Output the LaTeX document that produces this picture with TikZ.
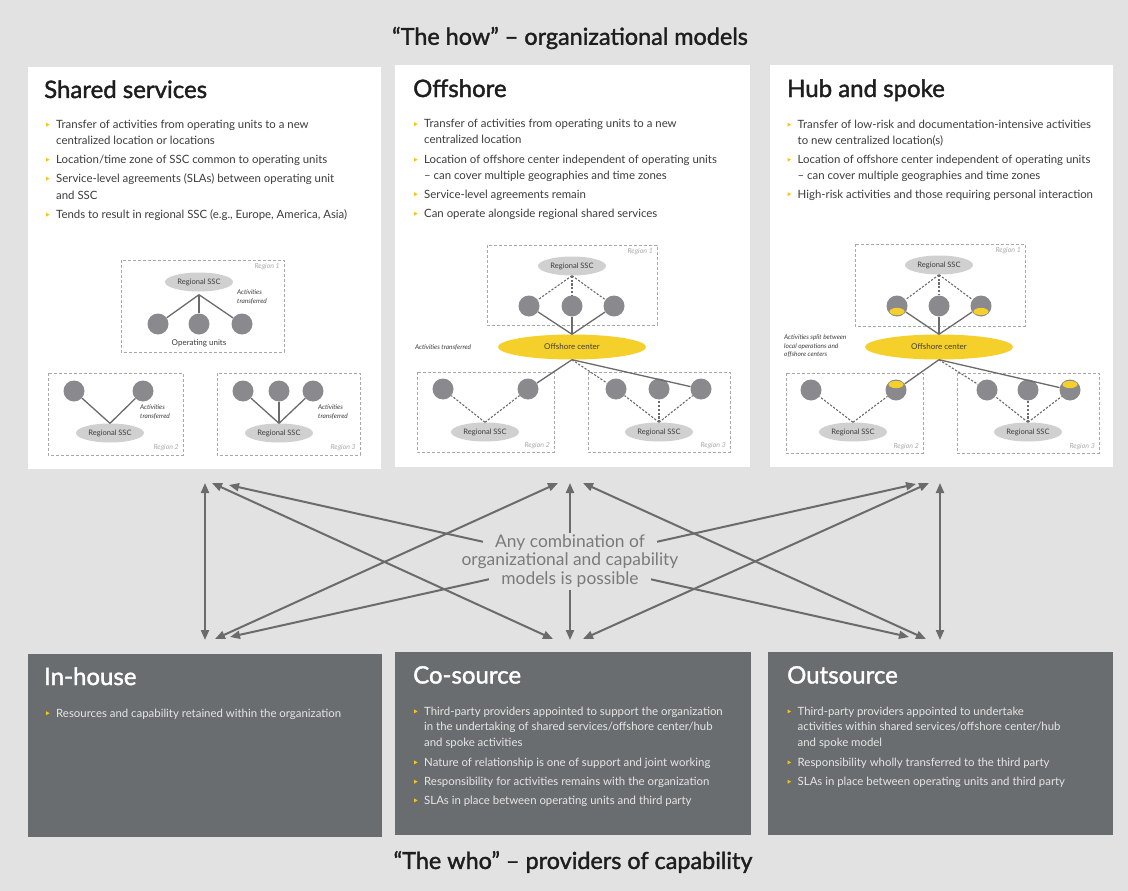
\documentclass[tikz,border=0pt]{standalone}
\usepackage{fontspec}
\setmainfont{Lato}
\newfontfamily\headfont[FakeBold=1.6]{Lato}
\usetikzlibrary{arrows.meta,shapes.geometric,calc}

\definecolor{bg}{HTML}{E2E2E2}
\definecolor{darkpanel}{HTML}{6A6D6F}
\definecolor{unitgray}{HTML}{8A898E}
\definecolor{sscgray}{HTML}{D0D0D0}
\definecolor{offyellow}{HTML}{F6D02A}
\definecolor{bulletyellow}{HTML}{F5C518}
\definecolor{arrowgray}{HTML}{6B6B6B}
\definecolor{bodytext}{HTML}{3C3C3C}
\definecolor{lighttext}{HTML}{E6E6E6}
\definecolor{titletext}{HTML}{1E1E1E}
\definecolor{boxgray}{HTML}{A8A8A8}
\definecolor{labelgray}{HTML}{ABABAB}
\definecolor{midtext}{HTML}{7A7A7A}

% bullet item: name, x, baseline y, text colour, text
\newcommand\bitem[5]{%
  \fill[bulletyellow] (#2-10,#3-5.8) -- ++(3.6,2) -- ++(-3.6,2) -- cycle;
  \node[btext,text=#4] (#1) at (#2,#3) {#5};}
% continuation line of a bullet
\newcommand\bcont[5]{\node[btext,text=#4] (#1) at (#2,#3) {#5};}

\begin{document}
\begin{tikzpicture}[x=1pt,y=-1pt,
  ptitle/.style={anchor=base west, inner sep=0, font=\headfont\fontsize{24}{28}\selectfont, text=titletext},
  btext/.style={anchor=base west, inner sep=0, font=\fontsize{11.4}{13}\selectfont, text=bodytext},
  headline/.style={inner sep=0, font=\headfont\fontsize{23.4}{27}\selectfont, text=titletext},
  regbox/.style={draw=boxgray, line width=1pt, dash pattern=on 3pt off 2pt},
  unit/.style={circle, fill=unitgray, minimum size=21pt, inner sep=0},
  ssc/.style={ellipse, fill=sscgray, minimum width=68pt, minimum height=19pt, inner sep=0, font=\fontsize{7.5}{9}\selectfont, text=bodytext},
  offc/.style={ellipse, fill=offyellow, minimum width=148pt, minimum height=25pt, inner sep=0, font=\fontsize{8}{9}\selectfont, text=bodytext},
  link/.style={draw=arrowgray, line width=1.3pt},
  dlink/.style={draw=arrowgray, line width=1.1pt, dash pattern=on 2.2pt off 1.6pt},
  note/.style={font=\itshape\fontsize{6.5}{8.5}\selectfont, text=bodytext, inner sep=0, align=left},
  reglabel/.style={font=\itshape\fontsize{7}{8}\selectfont, text=labelgray, inner sep=0, anchor=north east},
  conn/.style={draw=arrowgray, line width=2pt, {Triangle[length=10pt,width=8pt]}-{Triangle[length=10pt,width=8pt]}},
  midlabel/.style={fill=bg, inner xsep=12pt, inner ysep=2pt, text height=12.5pt, text depth=4pt, font=\fontsize{17.4}{20}\selectfont, text=midtext}
]
\path[use as bounding box, fill=bg] (0,0) rectangle (1128,891);

% ---------- headings ----------
\node[headline] (howtitle) at (570,38) {“The how” – organizational models};
\node[headline] (whotitle) at (573,862) {“The who” – providers of capability};

% ---------- organizational model panels ----------
\fill[white] (28,67) rectangle (381,469);
\fill[white] (395,65) rectangle (750,467);
\fill[white] (770,65) rectangle (1113,467);

\node[ptitle] (sstitle) at (44,98) {Shared services};
\bitem{ss1}{56}{128.5}{bodytext}{Transfer of activities from operating units to a new}
\bcont{ss1b}{56}{144.5}{bodytext}{centralized location or locations}
\bitem{ss2}{56}{163.5}{bodytext}{Location/time zone of SSC common to operating units}
\bitem{ss3}{56}{182.5}{bodytext}{Service-level agreements (SLAs) between operating unit}
\bcont{ss3b}{56}{199.5}{bodytext}{and SSC}
\bitem{ss4}{56}{218.5}{bodytext}{Tends to result in regional SSC (e.g., Europe, America, Asia)}

\node[ptitle] (oftitle) at (413,97) {Offshore};
\bitem{of1}{424}{128}{bodytext}{Transfer of activities from operating units to a new}
\bcont{of1b}{424}{143.5}{bodytext}{centralized location}
\bitem{of2}{424}{163.5}{bodytext}{Location of offshore center independent of operating units}
\bcont{of2b}{424}{179}{bodytext}{– can cover multiple geographies and time zones}
\bitem{of3}{424}{198}{bodytext}{Service-level agreements remain}
\bitem{of4}{424}{217.5}{bodytext}{Can operate alongside regional shared services}

\node[ptitle] (hstitle) at (787,97) {Hub and spoke};
\bitem{hs1}{797.5}{128.5}{bodytext}{Transfer of low-risk and documentation-intensive activities}
\bcont{hs1b}{797.5}{144.5}{bodytext}{to new centralized location(s)}
\bitem{hs2}{797.5}{163.5}{bodytext}{Location of offshore center independent of operating units}
\bcont{hs2b}{797.5}{179}{bodytext}{– can cover multiple geographies and time zones}
\bitem{hs3}{797.5}{198}{bodytext}{High-risk activities and those requiring personal interaction}

% ---------- shared services sketch ----------
\draw[regbox] (121,260) rectangle (284,352);
\draw[regbox] (48,373) rectangle (183,455);
\draw[regbox] (217,373) rectangle (360,455);
\node[reglabel] (a-r1) at (280,263) {Region 1};
\node[reglabel] (a-r2) at (179,444) {Region 2};
\node[reglabel] (a-r3) at (356,444) {Region 3};

\node[ssc] (a-s1) at (199,282) {Regional SSC};
\node[unit] (a-u1) at (158,324) {};
\node[unit] (a-u2) at (199,324) {};
\node[unit] (a-u3) at (242,324) {};
\coordinate (a-j1) at ($(a-s1.south)+(0,3)$);
\draw[link] (a-j1) -- (a-u1); \draw[link] (a-j1) -- (a-u2); \draw[link] (a-j1) -- (a-u3);
\node[font=\fontsize{8}{9}\selectfont, text=bodytext] (a-ou) at (199,343) {Operating units};
\node[note, anchor=north west] (a-n1) at (237,290) {Activities\\transferred};

\node[ssc] (a-s2) at (110,433) {Regional SSC};
\node[unit] (a-u4) at (74,391) {};
\node[unit] (a-u5) at (143,391) {};
\draw[link] (a-s2.north) -- (a-u4); \draw[link] (a-s2.north) -- (a-u5);
\node[note, anchor=north west] (a-n2) at (140,405) {Activities\\transferred};

\node[ssc] (a-s3) at (279,433) {Regional SSC};
\node[unit] (a-u6) at (243,391) {};
\node[unit] (a-u7) at (279,391) {};
\node[unit] (a-u8) at (313,391) {};
\draw[link] (a-s3.north) -- (a-u6); \draw[link] (a-s3.north) -- (a-u7); \draw[link] (a-s3.north) -- (a-u8);
\node[note, anchor=north west] (a-n3) at (318,405) {Activities\\transferred};

% ---------- offshore sketch ----------
\draw[regbox] (487,245) rectangle (657,325);
\draw[regbox] (417,372) rectangle (554,452);
\draw[regbox] (588,372) rectangle (730,452);
\node[reglabel] (b-r1) at (653,248) {Region 1};
\node[reglabel] (b-r2) at (550,442) {Region 2};
\node[reglabel] (b-r3) at (726,442) {Region 3};

\node[ssc] (b-s1) at (572,266) {Regional SSC};
\node[unit] (b-u1) at (529,306) {};
\node[unit] (b-u2) at (572,306) {};
\node[unit] (b-u3) at (614,306) {};
\draw[dlink] (b-s1.south) -- (b-u1); \draw[dlink] (b-s1.south) -- (b-u2); \draw[dlink] (b-s1.south) -- (b-u3);
\node[offc] (b-oc) at (572,347) {Offshore center};
\draw[link] (b-oc.north) -- (b-u1); \draw[link] (b-oc.north) -- (b-u2); \draw[link] (b-oc.north) -- (b-u3);
\node[note, anchor=west] (b-n1) at (415,348) {Activities transferred};

\node[ssc] (b-s2) at (485,432) {Regional SSC};
\node[unit] (b-u4) at (443,389) {};
\node[unit] (b-u5) at (528,389) {};
\draw[dlink] (b-s2.north) -- (b-u4); \draw[dlink] (b-s2.north) -- (b-u5);

\node[ssc] (b-s3) at (659,432) {Regional SSC};
\node[unit] (b-u6) at (616,389) {};
\node[unit] (b-u7) at (659,389) {};
\node[unit] (b-u8) at (701,389) {};
\draw[dlink] (b-s3.north) -- (b-u6); \draw[dlink] (b-s3.north) -- (b-u7); \draw[dlink] (b-s3.north) -- (b-u8);

\draw[link] (b-oc.south) -- (b-u5);
\draw[link] (b-oc.south) -- (b-u8);
\draw[dlink] (b-oc.south) -- (b-u6);

% ---------- hub and spoke sketch ----------
\draw[regbox] (855,244) rectangle (1025,326);
\draw[regbox] (786,373) rectangle (923,453);
\draw[regbox] (957,373) rectangle (1099,453);
\node[reglabel] (c-r1) at (1021,247) {Region 1};
\node[reglabel] (c-r2) at (919,443) {Region 2};
\node[reglabel] (c-r3) at (1095,443) {Region 3};

\node[ssc] (c-s1) at (939,265) {Regional SSC};
\node[unit] (c-u1) at (897,306) {};
\node[unit] (c-u2) at (939,306) {};
\node[unit] (c-u3) at (981,306) {};
\draw[dlink] (c-s1.south) -- (c-u1); \draw[dlink] (c-s1.south) -- (c-u2); \draw[dlink] (c-s1.south) -- (c-u3);
\node[offc] (c-oc) at (939,347) {Offshore center};
\draw[link] (c-oc.north) -- (c-u1); \draw[link] (c-oc.north) -- (c-u2); \draw[link] (c-oc.north) -- (c-u3);
\node[note, anchor=north west] (c-n1) at (784,335) {Activities split between\\local operations and\\offshore centers};

\node[ssc] (c-s2) at (853,432) {Regional SSC};
\node[unit] (c-u4) at (811,390) {};
\node[unit] (c-u5) at (896,390) {};
\draw[dlink] (c-s2.north) -- (c-u4); \draw[dlink] (c-s2.north) -- (c-u5);

\node[ssc] (c-s3) at (1028,432) {Regional SSC};
\node[unit] (c-u6) at (987,390) {};
\node[unit] (c-u7) at (1028,390) {};
\node[unit] (c-u8) at (1070,390) {};
\draw[dlink] (c-s3.north) -- (c-u6); \draw[dlink] (c-s3.north) -- (c-u7); \draw[dlink] (c-s3.north) -- (c-u8);

\draw[link] (c-oc.south) -- (c-u5);
\draw[link] (c-oc.south) -- (c-u8);
\draw[dlink] (c-oc.south) -- (c-u6);

% yellow share of work kept offshore
\fill[offyellow] ($(c-u1)+(0,5.5)$) ellipse [x radius=7.5pt, y radius=3.6pt];
\fill[offyellow] ($(c-u3)+(0,5.5)$) ellipse [x radius=7.5pt, y radius=3.6pt];
\fill[offyellow] ($(c-u5)+(0,-5.5)$) ellipse [x radius=7.5pt, y radius=3.6pt];
\fill[offyellow] ($(c-u8)+(0,-5.5)$) ellipse [x radius=7.5pt, y radius=3.6pt];

% ---------- capability panels ----------
\fill[darkpanel] (28,654) rectangle (382,837);
\fill[darkpanel] (395,652) rectangle (751,835);
\fill[darkpanel] (768,652) rectangle (1113,835);

\node[ptitle, text=white] (ihtitle) at (44,685) {In-house};
\bitem{ih1}{56}{717}{lighttext}{Resources and capability retained within the organization}

\node[ptitle, text=white] (cstitle) at (413,683.5) {Co-source};
\bitem{cs1}{424}{715.2}{lighttext}{Third-party providers appointed to support the organization}
\bcont{cs1b}{424}{730.8}{lighttext}{in the undertaking of shared services/offshore center/hub}
\bcont{cs1c}{424}{746.2}{lighttext}{and spoke activities}
\bitem{cs2}{424}{766.2}{lighttext}{Nature of relationship is one of support and joint working}
\bitem{cs3}{424}{785.5}{lighttext}{Responsibility for activities remains with the organization}
\bitem{cs4}{424}{804.2}{lighttext}{SLAs in place between operating units and third party}

\node[ptitle, text=white] (ostitle) at (787,683.5) {Outsource};
\bitem{os1}{797.5}{715.2}{lighttext}{Third-party providers appointed to undertake}
\bcont{os1b}{797.5}{730.8}{lighttext}{activities within shared services/offshore center/hub}
\bcont{os1c}{797.5}{746.2}{lighttext}{and spoke model}
\bitem{os2}{797.5}{766.2}{lighttext}{Responsibility wholly transferred to the third party}
\bitem{os3}{797.5}{785.5}{lighttext}{SLAs in place between operating units and third party}

% ---------- connectors between models and providers ----------
\coordinate (t-ss-v) at (205,483);  \coordinate (b-ih-v) at (205,640);
\coordinate (t-of-v) at (570,483);  \coordinate (b-cs-v) at (570,640);
\coordinate (t-hs-v) at (940,483);  \coordinate (b-os-v) at (940,640);
\coordinate (t-ss-cs) at (212,483); \coordinate (b-cs-ss) at (553,639);
\coordinate (t-ss-os) at (229,485); \coordinate (b-os-ss) at (909,637);
\coordinate (t-of-ih) at (558,483); \coordinate (b-ih-of) at (215,639);
\coordinate (t-of-os) at (583,483); \coordinate (b-os-of) at (926,639);
\coordinate (t-hs-ih) at (916,484); \coordinate (b-ih-hs) at (230,637);
\coordinate (t-hs-cs) at (929,483); \coordinate (b-cs-hs) at (583,639);

\draw[conn] (t-ss-v) -- (b-ih-v);
\draw[conn] (t-of-v) -- (b-cs-v);
\draw[conn] (t-hs-v) -- (b-os-v);
\draw[conn] (t-ss-cs) -- (b-cs-ss);
\draw[conn] (t-ss-os) -- (b-os-ss);
\draw[conn] (t-of-ih) -- (b-ih-of);
\draw[conn] (t-of-os) -- (b-os-of);
\draw[conn] (t-hs-ih) -- (b-ih-hs);
\draw[conn] (t-hs-cs) -- (b-cs-hs);

\node[midlabel] (combo1) at (570,543) {Any combination of};
\node[midlabel] (combo2) at (570,561.5) {organizational and capability};
\node[midlabel] (combo3) at (570,580) {models is possible};
\end{tikzpicture}
\end{document}
